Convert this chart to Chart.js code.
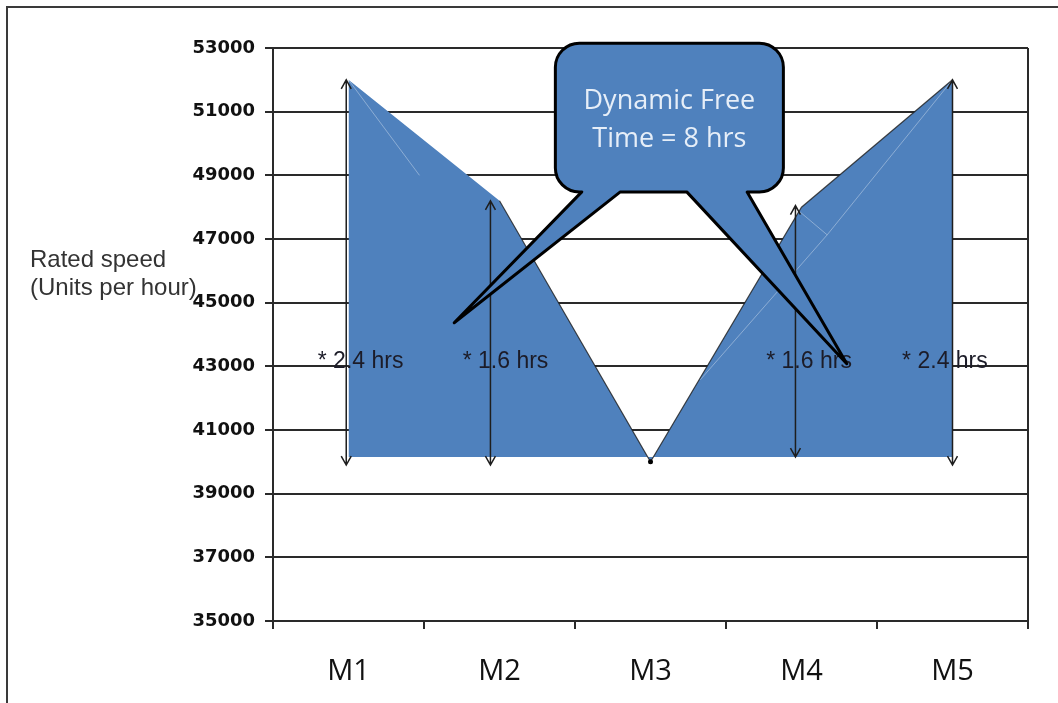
<!DOCTYPE html>
<html>
<head>
<meta charset="utf-8">
<script src="https://cdn.jsdelivr.net/npm/chart.js@4.4.1/dist/chart.umd.min.js"></script>
<style>
  html, body { margin: 0; padding: 0; background: #fff; }
  #wrap { width: 1058px; height: 703px; position: relative; }
</style>
</head>
<body>
<div id="wrap"><canvas id="c" width="1058" height="703"></canvas></div>
<script>
// ---- chart data ----
const machines = ['M1', 'M2', 'M3', 'M4', 'M5'];
const ratedSpeed = [52000, 48200, 40000, 48000, 52000];
const fillBase = 40150;
const yMin = 35000;
const yMax = 53000;
const yStep = 2000;

// double-headed arrows (category position, top value, bottom value)
const arrowAt = [-0.015, 0.94, 2.96, 4.0];
const arrowTop = [52000, 48200, 48050, 52000];
const arrowBottom = [39900, 39900, 40150, 39900];

// hour notes beside the arrows
const hoursText = ['* 2.4 hrs', '* 1.6 hrs', '* 1.6 hrs', '* 2.4 hrs'];
const hoursAt = [0.08, 1.04, 3.05, 3.95];
const hoursValue = 43150;

const axisTitle = ['Rated speed', '(Units per hour)'];
const calloutText = ['Dynamic Free', 'Time = 8 hrs'];

// callout geometry in axis units
const calloutBox = { from: 1.37, to: 2.88, top: 53150, bottom: 48480 };
const calloutTails = [
  { baseFrom: 1.545, baseTo: 1.80, tipAt: 0.70, tipValue: 44370 },
  { baseFrom: 2.24, baseTo: 2.64, tipAt: 3.30, tipValue: 43080 }
];

// faint light strokes across the filled area
const faintStrokes = [
  [[0, 52000], [0.47, 49000]],
  [[4, 52000], [3.17, 47130], [2.99, 47850]],
  [[3.17, 47130], [2.33, 42580]]
];

const BLUE = '#4F81BD';

function drawArrow(ctx, px, yTop, yBot) {
  ctx.beginPath();
  ctx.moveTo(px, yTop);
  ctx.lineTo(px, yBot);
  ctx.moveTo(px - 5, yTop + 9);
  ctx.lineTo(px, yTop);
  ctx.lineTo(px + 5, yTop + 9);
  ctx.moveTo(px - 5, yBot - 9);
  ctx.lineTo(px, yBot);
  ctx.lineTo(px + 5, yBot - 9);
  ctx.stroke();
}

const decor = {
  id: 'decor',
  beforeDraw(chart) {
    const ctx = chart.ctx;
    ctx.save();
    ctx.strokeStyle = '#3a3a3a';
    ctx.lineWidth = 2;
    ctx.beginPath();
    ctx.moveTo(7, chart.height);
    ctx.lineTo(7, 7);
    ctx.lineTo(chart.width, 7);
    ctx.stroke();
    ctx.restore();
  },
  afterDatasetsDraw(chart) {
    const { ctx, chartArea, scales: { x, y } } = chart;
    ctx.save();

    // right edge of the plot area
    ctx.strokeStyle = '#2a2a2a';
    ctx.lineWidth = 2;
    ctx.beginPath();
    ctx.moveTo(chartArea.right, chartArea.top);
    ctx.lineTo(chartArea.right, chartArea.bottom);
    ctx.stroke();

    // faint strokes
    ctx.strokeStyle = 'rgba(255,255,255,0.35)';
    ctx.lineWidth = 1;
    faintStrokes.forEach(pts => {
      ctx.beginPath();
      pts.forEach((p, i) => {
        const px = x.getPixelForValue(p[0]);
        const py = y.getPixelForValue(p[1]);
        if (i === 0) ctx.moveTo(px, py); else ctx.lineTo(px, py);
      });
      ctx.stroke();
    });

    // arrows
    ctx.strokeStyle = '#1e1e1e';
    ctx.lineWidth = 1.5;
    arrowAt.forEach((a, i) => {
      drawArrow(ctx, x.getPixelForValue(a), y.getPixelForValue(arrowTop[i]), y.getPixelForValue(arrowBottom[i]));
    });

    // hour notes
    ctx.fillStyle = '#1c1c28';
    ctx.font = '23px "Liberation Sans", Arial, sans-serif';
    ctx.textAlign = 'center';
    ctx.textBaseline = 'middle';
    hoursText.forEach((t, i) => {
      ctx.fillText(t, x.getPixelForValue(hoursAt[i]), y.getPixelForValue(hoursValue));
    });

    // callout bubble with two tails
    const L = x.getPixelForValue(calloutBox.from);
    const R = x.getPixelForValue(calloutBox.to);
    const T = y.getPixelForValue(calloutBox.top);
    const B = y.getPixelForValue(calloutBox.bottom);
    const r = 24;
    const t1 = calloutTails[0], t2 = calloutTails[1];
    ctx.beginPath();
    ctx.moveTo(L + r, T);
    ctx.lineTo(R - r, T);
    ctx.arcTo(R, T, R, T + r, r);
    ctx.lineTo(R, B - r);
    ctx.arcTo(R, B, R - r, B, r);
    ctx.lineTo(x.getPixelForValue(t2.baseTo), B);
    ctx.lineTo(x.getPixelForValue(t2.tipAt), y.getPixelForValue(t2.tipValue));
    ctx.lineTo(x.getPixelForValue(t2.baseFrom), B);
    ctx.lineTo(x.getPixelForValue(t1.baseTo), B);
    ctx.lineTo(x.getPixelForValue(t1.tipAt), y.getPixelForValue(t1.tipValue));
    ctx.lineTo(x.getPixelForValue(t1.baseFrom), B);
    ctx.arcTo(L, B, L, B - r, r);
    ctx.lineTo(L, T + r);
    ctx.arcTo(L, T, L + r, T, r);
    ctx.closePath();
    ctx.fillStyle = BLUE;
    ctx.fill();
    ctx.strokeStyle = '#000';
    ctx.lineWidth = 3;
    ctx.lineJoin = 'round';
    ctx.stroke();

    ctx.fillStyle = '#e6eef8';
    ctx.font = '27px "Open Sans", sans-serif';
    ctx.textAlign = 'center';
    ctx.textBaseline = 'middle';
    const cx = (L + R) / 2;
    ctx.fillText(calloutText[0], cx, T + 58);
    ctx.fillText(calloutText[1], cx, T + 96);

    // axis title, written horizontally left of the axis
    ctx.fillStyle = '#333';
    ctx.font = '24px "Liberation Sans", Arial, sans-serif';
    ctx.textAlign = 'left';
    ctx.textBaseline = 'middle';
    ctx.fillText(axisTitle[0], chartArea.left - 243, chartArea.top + 212);
    ctx.fillText(axisTitle[1], chartArea.left - 243, chartArea.top + 240);

    ctx.restore();
  }
};

new Chart(document.getElementById('c'), {
  type: 'line',
  data: {
    labels: machines,
    datasets: [
      {
        // dark outline along the falling and rising edges
        data: ratedSpeed.map((v, i) => (i === 0 ? null : v)),
        fill: false,
        borderColor: 'rgba(30,30,30,0.8)',
        borderWidth: 1.2,
        pointRadius: [0, 0, 2.5, 0, 0],
        pointBackgroundColor: '#000',
        pointBorderWidth: 0,
        tension: 0
      },
      {
        data: ratedSpeed,
        fill: { value: fillBase },
        backgroundColor: BLUE,
        borderColor: BLUE,
        borderWidth: 0,
        pointRadius: 0,
        tension: 0
      }
    ]
  },
  options: {
    responsive: false,
    animation: false,
    devicePixelRatio: 1,
    layout: { padding: { top: 48, right: 30, left: 0, bottom: 0 } },
    plugins: { legend: { display: false }, tooltip: { enabled: false } },
    scales: {
      x: {
        offset: true,
        grid: { offset: true, drawOnChartArea: false, tickLength: 8, color: '#2a2a2a', lineWidth: 2 },
        border: { color: '#2a2a2a', width: 2 },
        ticks: { font: { family: 'Open Sans', size: 29 }, color: '#111', padding: 25, maxRotation: 0 },
        afterFit: s => { s.height = 82; }
      },
      y: {
        min: yMin,
        max: yMax,
        ticks: {
          stepSize: yStep,
          callback: v => String(v),
          font: { family: 'DejaVu Sans', weight: 'bold', size: 18 },
          color: '#111',
          padding: 10
        },
        grid: { color: '#2a2a2a', lineWidth: 2, tickLength: 8 },
        border: { color: '#2a2a2a', width: 2 },
        afterFit: s => { s.width = 273; }
      }
    }
  },
  plugins: [decor]
});
</script>
</body>
</html>
